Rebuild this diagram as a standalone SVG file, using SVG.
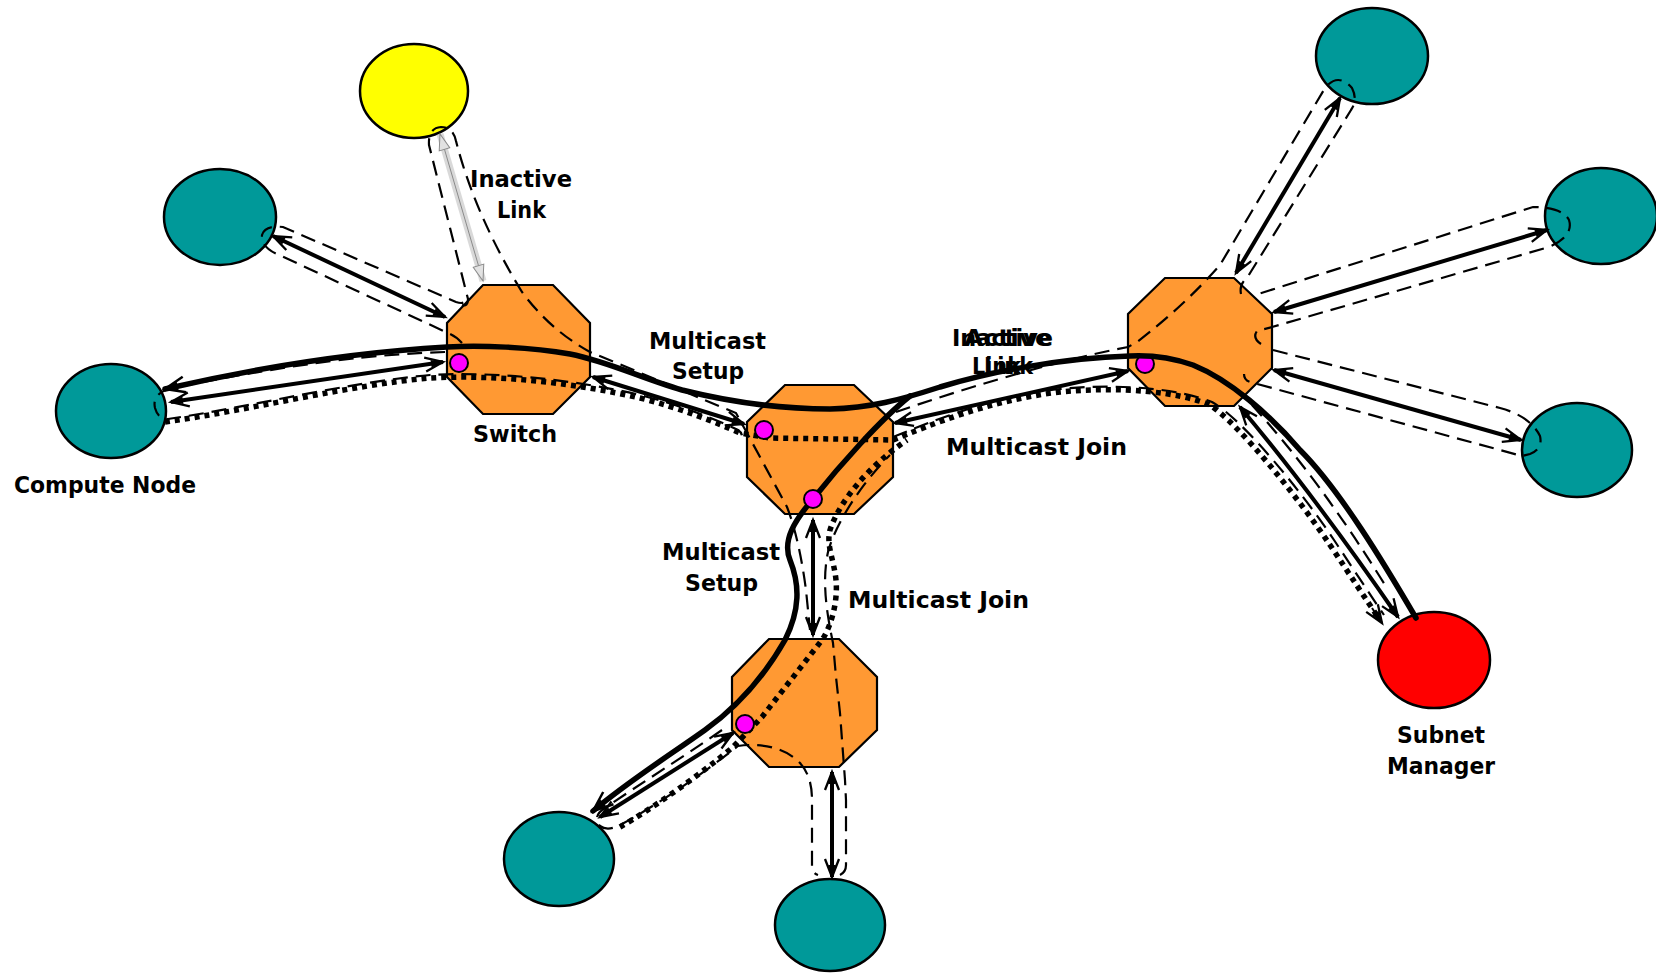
<svg xmlns="http://www.w3.org/2000/svg" width="1656" height="973" viewBox="0 0 1656 973">
  <style>
    .node { stroke: #000; stroke-width: 2.5; }
    .cn { fill: #009999; }
    .sw { fill: #FF9933; stroke: #000; stroke-width: 2.2; }
    .port { fill: #FF00FF; stroke: #000; stroke-width: 2; }
    .lnk { fill: none; stroke: #000; stroke-width: 4; }
    .dsh { fill: none; stroke: #000; stroke-width: 2.2; stroke-dasharray: 15 8; }
    .dot { fill: none; stroke: #000; stroke-width: 5.5; stroke-dasharray: 5 5; }
    .thk { fill: none; stroke: #000; stroke-width: 5.5; stroke-linecap: round; }
    text { font-family: "DejaVu Sans", "Liberation Sans", sans-serif; font-weight: bold; font-size: 23px; fill: #000; }
  </style>
  <defs>
    <marker id="ah" viewBox="-22 -10 24 20" refX="0" refY="0" markerWidth="24" markerHeight="20" markerUnits="userSpaceOnUse" orient="auto-start-reverse" overflow="visible">
      <path d="M-18,-7 L0,0 L-18,7" fill="none" stroke="#000" stroke-width="2.3"/>
      <path d="M-12,-3.8 L0,0 L-12,3.8 Z" fill="#000"/>
    </marker>
    <marker id="ahT" viewBox="-24 -12 26 24" refX="0" refY="0" markerWidth="26" markerHeight="24" markerUnits="userSpaceOnUse" orient="auto" overflow="visible">
      <path d="M-20,-8 L0,0 L-20,8" fill="none" stroke="#000" stroke-width="2.5"/>
      <path d="M-13,-4.5 L0,0 L-13,4.5 Z" fill="#000"/>
    </marker>
    <marker id="ahG" viewBox="-20 -10 22 20" refX="0" refY="0" markerWidth="22" markerHeight="20" markerUnits="userSpaceOnUse" orient="auto-start-reverse" overflow="visible">
      <path d="M-16,-5.5 L0,0 L-16,5.5 Z" fill="#e2e2e2" stroke="#8a8a8a" stroke-width="1"/>
    </marker>
  </defs>

  <!-- end nodes -->
  <g id="node-inactive"><ellipse class="node" cx="414" cy="91" rx="54" ry="47" fill="#FFFF00"/></g>
  <g id="node-cn-topleft"><ellipse class="node cn" cx="220" cy="217" rx="56" ry="48"/></g>
  <g id="node-compute"><ellipse class="node cn" cx="111" cy="411" rx="55" ry="47"/></g>
  <g id="node-cn-bottomleft"><ellipse class="node cn" cx="559" cy="859" rx="55" ry="47"/></g>
  <g id="node-cn-bottom"><ellipse class="node cn" cx="830" cy="925" rx="55" ry="46"/></g>
  <g id="node-cn-topright"><ellipse class="node cn" cx="1372" cy="56" rx="56" ry="48"/></g>
  <g id="node-cn-right"><ellipse class="node cn" cx="1601" cy="216" rx="56" ry="48"/></g>
  <g id="node-cn-lowright"><ellipse class="node cn" cx="1577" cy="450" rx="55" ry="47"/></g>
  <g id="node-subnet-manager"><ellipse class="node" cx="1434" cy="660" rx="56" ry="48" fill="#FF0000"/></g>

  <!-- switches -->
  <g id="switch-left"><polygon class="sw" points="483,285 553,285 590,323 590,377 553,414 483,414 447,377 447,323"/></g>
  <g id="switch-center"><polygon class="sw" points="785,385 854,385 893,422 893,477 854,514 785,514 747,477 747,422"/></g>
  <g id="switch-right">
    <polygon class="sw" points="1165,278 1234,278 1272,314 1272,368 1234,406 1165,406 1128,368 1128,314"/>
    <circle class="port" cx="1145" cy="364" r="9"/>
  </g>
  <g id="switch-bottom"><polygon class="sw" points="769,639 839,639 877,677 877,730 839,767 769,767 732,730 732,677"/></g>

  <g id="connectors">
    <!-- dashed path outlines -->
    <path class="dsh" d="M462,305 q6,2 6,-6 L429,145 Q428,128 441,127 Q453,127 456,141 Q475,215 522,292 Q550,330 590,352 C630,368 680,390 736,413 L747,433 L787,507 C796,530 802,560 806,590 L810,630"/>
    <path class="dsh" d="M462,343 Q456,336 448,333 L277,254 Q261,247 262,235 Q265,225 283,227 L456,302 Q465,305 466,299"/>
    <path class="dsh" d="M445,352 C380,354 300,362 168,389 Q152,395 155,408 Q158,419 168,419 C250,407 350,382 430,375 C500,371 580,381 640,395 C680,405 715,419 738,430 q6,4 3,10"/>
    <path class="dsh" d="M893,437 C930,422 990,397 1060,389 C1120,383 1180,389 1212,402 C1244,420 1304,495 1334,540 C1354,570 1369,593 1384,615"/>
    <path class="dsh" d="M896,412 C960,390 1050,362 1128,347 L1137,342 Q1185,305 1220,265 L1325,88 Q1338,72 1352,88 Q1358,100 1351,110 L1247,278 q-8,6 -6,16"/>
    <path class="dsh" d="M1261,344 Q1252,338 1257,331 L1272,327 L1549,247 Q1574,236 1569,220 Q1562,207 1533,207 L1255,295"/>
    <path class="dsh" d="M1273,350 L1500,408 Q1530,416 1540,436 Q1543,449 1530,454 L1522,456 L1250,382 q-6,-2 -6,-8"/>
    <path class="dsh" d="M1252,405 Q1320,480 1385,585"/>
    <path class="dsh" d="M722,730 C680,759 640,784 605,808 Q592,816 600,826 Q608,832 622,824 C655,806 700,776 738,746 C765,742 788,750 800,763 C810,774 812,788 812,800 L812,866 q0,7 6,9"/>
    <path class="dsh" d="M840,875 q6,-3 6,-10 L846,800 L845,780 L840,713 L836,677 L833,643 C826,610 822,580 828,552 C835,525 860,485 890,455"/>

    <!-- links -->
    <path class="lnk" d="M273,236 L445,317" marker-start="url(#ah)" marker-end="url(#ah)"/>
    <path class="lnk" d="M171,402 L443,362" marker-start="url(#ah)" marker-end="url(#ah)"/>
    <path class="lnk" d="M593,377 L744,424" marker-start="url(#ah)" marker-end="url(#ah)"/>
    <path class="lnk" d="M895,423 L1128,371" marker-start="url(#ah)" marker-end="url(#ah)"/>
    <path class="lnk" d="M813,520 L813,635" marker-start="url(#ah)" marker-end="url(#ah)"/>
    <path class="lnk" d="M600,817 L733,733" marker-start="url(#ah)" marker-end="url(#ah)"/>
    <path class="lnk" d="M832,772 L832,877" marker-start="url(#ah)" marker-end="url(#ah)"/>
    <path class="lnk" d="M1236,273 L1340,98" marker-start="url(#ah)" marker-end="url(#ah)"/>
    <path class="lnk" d="M1274,312 L1547,230" marker-start="url(#ah)" marker-end="url(#ah)"/>
    <path class="lnk" d="M1274,370 L1521,440" marker-start="url(#ah)" marker-end="url(#ah)"/>
    <path class="lnk" d="M1240,407 Q1314,495 1398,617" marker-start="url(#ah)" marker-end="url(#ah)"/>

    <!-- inactive link -->
    <path d="M440,134 L483,281" fill="none" stroke="#d9d9d9" stroke-width="7"/>
    <path d="M440,134 L483,281" fill="none" stroke="#8a8a8a" stroke-width="1" marker-start="url(#ahG)" marker-end="url(#ahG)"/>

    <!-- multicast join (dotted) -->
    <path class="dot" d="M165,422 C250,410 350,385 430,378 C500,374 580,384 640,398 C680,408 715,422 740,433 L770,438 L893,440 C930,425 990,400 1060,392 C1120,386 1180,392 1210,405 C1240,425 1300,500 1330,545 C1350,575 1365,598 1378,617"/>
    <path d="M1372,608 L1382,623" fill="none" stroke="#000" stroke-width="2" marker-end="url(#ah)"/>
    <path class="dot" d="M620,827 C650,810 700,775 733,747 L762,717 L822,640 C832,625 838,600 836,580 C834,560 826,545 830,530 C840,500 870,465 907,440"/>

    <!-- multicast setup (thick) -->
    <path class="thk" d="M1416,618 C1385,565 1340,490 1300,450 C1270,415 1230,380 1193,365 C1170,357 1150,355 1130,356 C1060,358 990,372 940,387 C900,400 870,408 830,409 C780,409 730,402 682,390 C640,378 610,362 570,354 C530,347 480,345 447,347 C360,352 260,367 165,389" marker-end="url(#ahT)"/>
    <path class="thk" d="M910,396 C880,420 840,465 813,499 C795,520 782,540 790,560 C800,585 800,610 785,640 C765,675 740,705 705,730 C670,755 630,780 593,811" marker-end="url(#ahT)"/>
  </g>

  <!-- switch ports -->
  <g id="ports">
    <circle class="port" cx="459" cy="363" r="9"/>
    <circle class="port" cx="764" cy="430" r="9"/>
    <circle class="port" cx="813" cy="499" r="9"/>
    <circle class="port" cx="745" cy="724" r="9"/>
  </g>

  <g id="labels">
    <text x="470" y="187" textLength="102" lengthAdjust="spacingAndGlyphs">Inactive</text>
    <text x="497" y="218" textLength="49" lengthAdjust="spacingAndGlyphs">Link</text>
    <text x="649" y="349" textLength="117" lengthAdjust="spacingAndGlyphs">Multicast</text>
    <text x="672" y="379" textLength="72" lengthAdjust="spacingAndGlyphs">Setup</text>
    <text x="473" y="442" textLength="84" lengthAdjust="spacingAndGlyphs">Switch</text>
    <text x="14" y="493" textLength="182" lengthAdjust="spacingAndGlyphs">Compute Node</text>
    <text x="952" y="346" textLength="101" lengthAdjust="spacingAndGlyphs">Inactive</text>
    <text x="964" y="346" textLength="88" lengthAdjust="spacingAndGlyphs">Active</text>
    <text x="972" y="374" textLength="49" lengthAdjust="spacingAndGlyphs">Link</text>
    <text x="984" y="374" textLength="49" lengthAdjust="spacingAndGlyphs">Link</text>
    <text x="946" y="455" textLength="181" lengthAdjust="spacingAndGlyphs">Multicast Join</text>
    <text x="662" y="560" textLength="118" lengthAdjust="spacingAndGlyphs">Multicast</text>
    <text x="685" y="591" textLength="73" lengthAdjust="spacingAndGlyphs">Setup</text>
    <text x="848" y="608" textLength="181" lengthAdjust="spacingAndGlyphs">Multicast Join</text>
    <text x="1397" y="743" textLength="88" lengthAdjust="spacingAndGlyphs">Subnet</text>
    <text x="1387" y="774" textLength="108" lengthAdjust="spacingAndGlyphs">Manager</text>
  </g>
</svg>
